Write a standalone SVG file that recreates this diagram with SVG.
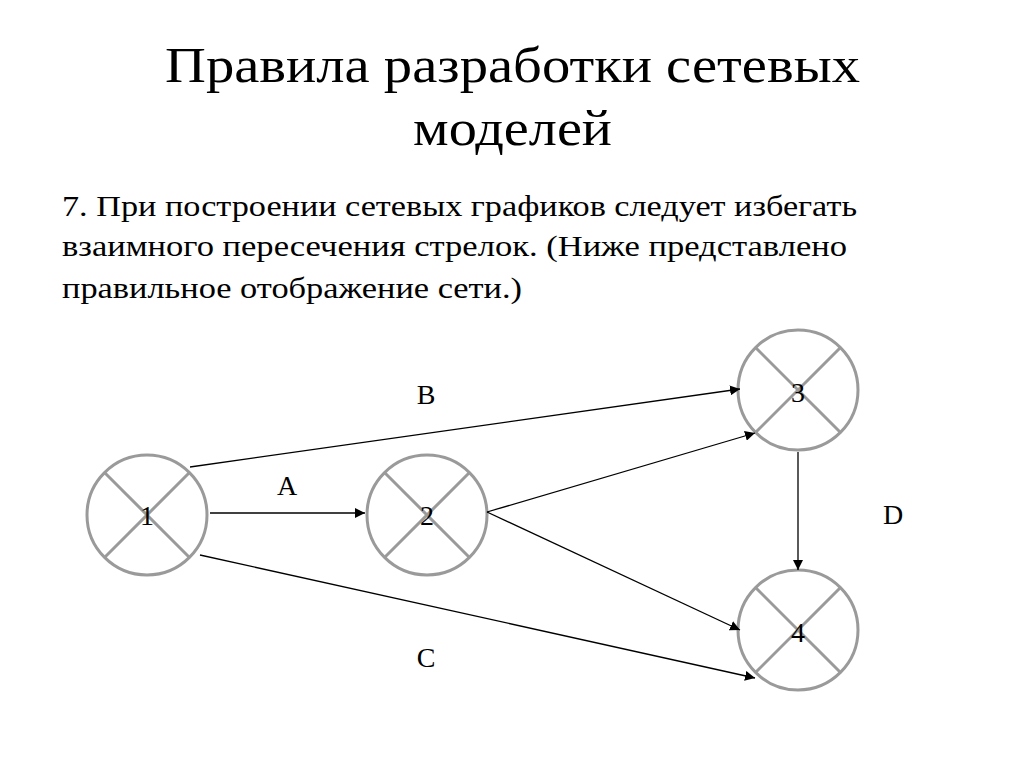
<svg xmlns="http://www.w3.org/2000/svg" width="1024" height="767" viewBox="0 0 1024 767">
<defs>
<style>
.t{font-family:"Liberation Serif","DejaVu Serif",serif;fill:#000}
.n circle{fill:#fff;stroke:#9a9a9a;stroke-width:3}
.n line{stroke:#9a9a9a;stroke-width:3}
.c line{stroke:#000;stroke-width:1.3;marker-end:url(#ah)}
</style>
<marker id="ah" viewBox="0 0 10 10" refX="10" refY="5" markerWidth="10" markerHeight="10" markerUnits="userSpaceOnUse" orient="auto"><path d="M0,0 L10,5 L0,10 z" fill="#000"/></marker>
</defs>
<rect width="1024" height="767" fill="#fff"/>
<text class="t" x="165" y="82" font-size="50" textLength="695" lengthAdjust="spacingAndGlyphs">Правила разработки сетевых</text>
<text class="t" x="413" y="145" font-size="50" textLength="199" lengthAdjust="spacingAndGlyphs">моделей</text>
<text class="t" font-size="30">
<tspan x="62" y="216" textLength="795" lengthAdjust="spacingAndGlyphs">7. При построении сетевых графиков следует избегать</tspan></text>
<text class="t" font-size="30"><tspan x="62" y="256" textLength="785" lengthAdjust="spacingAndGlyphs">взаимного пересечения стрелок. (Ниже представлено</tspan></text>
<text class="t" font-size="30"><tspan x="62" y="298" textLength="460" lengthAdjust="spacingAndGlyphs">правильное отображение сети.)</tspan></text>
<g id="n1" class="n"><circle cx="147" cy="515" r="60"/><line x1="105" y1="473" x2="189" y2="557"/><line x1="189" y1="473" x2="105" y2="557"/><text class="t" x="147" y="525" font-size="28" text-anchor="middle">1</text></g>
<g id="n2" class="n"><circle cx="427" cy="515" r="60"/><line x1="385" y1="473" x2="469" y2="557"/><line x1="469" y1="473" x2="385" y2="557"/><text class="t" x="427" y="525" font-size="28" text-anchor="middle">2</text></g>
<g id="n3" class="n"><circle cx="798" cy="390" r="60"/><line x1="756" y1="348" x2="840" y2="432"/><line x1="840" y1="348" x2="756" y2="432"/><text class="t" x="798" y="402" font-size="28" text-anchor="middle">3</text></g>
<g id="n4" class="n"><circle cx="798" cy="630" r="60"/><line x1="756" y1="588" x2="840" y2="672"/><line x1="840" y1="588" x2="756" y2="672"/><text class="t" x="798" y="642" font-size="28" text-anchor="middle">4</text></g>
<g id="connectors" class="c">
<line x1="190" y1="467" x2="740" y2="389"/>
<line x1="210" y1="513" x2="365" y2="513"/>
<line x1="200" y1="555" x2="755" y2="678"/>
<line x1="487" y1="512" x2="755" y2="433"/>
<line x1="487" y1="512" x2="740" y2="630"/>
<line x1="798" y1="452" x2="798" y2="570"/>
</g>
<g class="t" font-size="28" text-anchor="middle">
<text x="426" y="404">B</text><text x="287" y="495">A</text><text x="426" y="667">C</text><text x="893" y="524">D</text>
</g>
</svg>
